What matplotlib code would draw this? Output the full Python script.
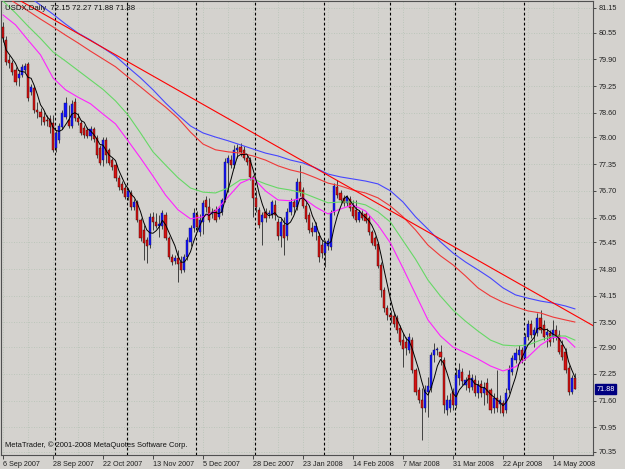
import numpy as np
import pandas as pd
import matplotlib
matplotlib.use("Agg")
import matplotlib.pyplot as plt
import matplotlib.transforms as mtransforms

# --- USDX daily, 6 Sep 2007 .. 23 May 2008 ---
opens = np.array([
    80.69, 80.37, 79.89, 79.81, 79.64, 79.45, 79.52, 79.64, 79.79, 79.11,
    79.21, 78.67, 78.62, 78.50, 78.43, 78.45, 78.35, 77.74, 77.94, 78.26,
    78.50, 78.43, 78.28, 78.86, 78.47, 78.35, 78.23, 78.18, 78.04, 78.21,
    77.99, 77.74, 77.45, 77.94, 77.70, 77.45, 77.33, 77.02, 76.87, 76.77,
    76.55, 76.65, 76.31, 76.43, 75.99, 75.75, 75.51, 75.38, 76.07, 75.94,
    75.85, 75.85, 76.11, 75.55, 75.09, 75.00, 75.07, 74.97, 74.78, 75.09,
    75.46, 75.80, 76.11, 75.70, 75.94, 76.48, 76.31, 76.14, 76.24, 76.07,
    76.19, 76.48, 77.38, 77.45, 77.33, 77.70, 77.77, 77.70, 77.50, 77.45,
    77.04, 76.53, 76.24, 75.94, 76.19, 76.14, 76.11, 76.36, 75.94, 75.60,
    75.87, 75.60, 76.19, 76.43, 76.31, 76.92, 76.72, 76.33, 76.11, 75.80,
    75.70, 75.60, 75.38, 75.19, 75.36, 75.34, 76.19, 76.80, 76.65, 76.53,
    76.41, 76.51, 76.31, 76.24, 75.99, 76.16, 76.14, 76.04, 75.70, 75.55,
    75.41, 74.90, 74.29, 73.85, 73.68, 73.66, 73.61, 73.37, 73.07, 73.02,
    72.83, 73.07, 72.34, 71.86, 71.62, 71.42, 71.81, 71.91, 72.71, 72.83,
    72.78, 72.59, 71.37, 71.42, 71.81, 71.49, 72.15, 72.29, 71.98, 72.22,
    71.93, 72.10, 71.78, 72.00, 71.78, 72.03, 71.86, 71.42, 71.66, 71.52,
    71.54, 71.37, 71.86, 72.29, 72.59, 72.71, 72.83, 72.64, 73.14, 73.46,
    73.19, 73.24, 73.61, 73.44, 73.19, 73.24, 73.12, 73.32, 73.19, 72.95,
    72.78, 72.39, 71.81, 72.15])

highs = np.array([
    80.81, 80.47, 80.01, 79.89, 79.72, 79.64, 79.79, 79.81, 79.84, 79.30,
    79.25, 78.86, 78.72, 78.62, 78.55, 78.55, 78.55, 78.18, 78.35, 78.67,
    78.98, 78.79, 78.91, 78.96, 78.60, 78.43, 78.30, 78.26, 78.28, 78.26,
    78.06, 77.82, 78.01, 78.01, 77.74, 77.50, 77.38, 77.09, 76.94, 76.84,
    76.77, 76.72, 76.51, 76.48, 76.04, 75.87, 75.58, 76.16, 76.19, 76.16,
    76.11, 76.24, 76.19, 75.60, 75.17, 75.14, 75.26, 75.12, 75.17, 75.58,
    75.87, 76.29, 76.21, 76.14, 76.48, 76.58, 76.53, 76.29, 76.33, 76.31,
    76.53, 77.50, 77.57, 77.57, 77.82, 77.84, 77.87, 77.79, 77.57, 77.52,
    77.09, 76.72, 76.31, 76.19, 76.29, 76.24, 76.48, 76.48, 76.04, 76.04,
    76.07, 76.29, 76.53, 76.51, 77.02, 77.33, 76.80, 76.43, 76.19, 75.94,
    75.94, 75.70, 75.51, 75.51, 75.55, 76.24, 76.89, 76.97, 76.72, 76.60,
    76.60, 76.58, 76.48, 76.48, 76.24, 76.24, 76.19, 76.11, 75.75, 75.60,
    75.46, 74.97, 74.36, 73.92, 73.80, 73.73, 73.68, 73.44, 73.24, 73.14,
    73.24, 73.14, 72.39, 71.93, 71.91, 71.98, 72.17, 72.78, 73.00, 72.90,
    72.95, 72.66, 71.73, 71.78, 71.91, 72.39, 72.51, 72.39, 72.17, 72.34,
    72.25, 72.22, 72.10, 72.10, 72.05, 72.15, 71.91, 71.78, 72.34, 71.73,
    71.62, 71.91, 72.47, 72.71, 72.88, 72.95, 72.90, 73.24, 73.56, 73.56,
    73.39, 73.73, 73.80, 73.56, 73.37, 73.32, 73.56, 73.44, 73.32, 73.07,
    72.88, 72.47, 72.22, 72.27])

lows = np.array([
    80.32, 79.76, 79.69, 79.52, 79.28, 79.25, 79.47, 79.59, 78.89, 79.03,
    78.60, 78.47, 78.30, 78.30, 78.28, 78.11, 77.65, 77.65, 77.87, 78.21,
    78.45, 78.23, 78.23, 78.40, 78.30, 78.06, 77.99, 77.99, 77.94, 77.89,
    77.50, 77.33, 77.31, 77.38, 77.33, 77.21, 76.94, 76.72, 76.65, 76.51,
    76.48, 76.24, 76.24, 75.94, 75.48, 75.02, 74.95, 75.31, 75.75, 75.80,
    75.58, 75.77, 75.51, 75.05, 74.90, 74.92, 74.48, 74.70, 74.73, 75.02,
    75.36, 75.70, 75.75, 75.60, 75.65, 76.19, 75.94, 76.04, 75.94, 76.02,
    76.11, 76.43, 76.67, 77.26, 77.26, 77.50, 77.55, 77.45, 77.33, 76.97,
    76.07, 76.19, 75.80, 75.38, 75.94, 76.04, 76.04, 75.99, 75.51, 75.34,
    75.14, 75.51, 76.11, 76.16, 76.24, 76.58, 76.29, 75.94, 75.68, 75.60,
    75.51, 74.97, 75.07, 74.85, 75.26, 75.26, 76.11, 76.53, 76.41, 76.33,
    76.33, 76.21, 76.04, 75.94, 75.94, 75.99, 75.92, 75.63, 75.38, 75.29,
    74.83, 74.12, 73.75, 73.56, 73.49, 73.39, 73.24, 72.95, 72.42, 72.71,
    72.76, 72.27, 71.73, 71.54, 70.64, 71.32, 71.20, 71.81, 72.54, 72.71,
    72.47, 71.30, 71.25, 71.32, 71.37, 71.42, 71.98, 71.98, 71.86, 71.81,
    71.86, 71.71, 71.66, 71.69, 71.49, 71.54, 71.30, 71.30, 71.32, 71.30,
    71.22, 71.30, 71.78, 72.22, 72.51, 72.59, 72.51, 72.59, 73.07, 73.12,
    72.90, 73.17, 73.24, 73.07, 72.90, 72.93, 73.02, 73.07, 72.73, 72.59,
    72.27, 71.73, 71.76, 71.88])

closes = np.array([
    80.42, 79.84, 79.81, 79.59, 79.35, 79.55, 79.72, 79.74, 78.96, 79.23,
    78.67, 78.62, 78.50, 78.38, 78.40, 78.26, 77.70, 78.11, 78.28, 78.60,
    78.84, 78.28, 78.82, 78.47, 78.38, 78.11, 78.06, 78.04, 78.21, 77.96,
    77.57, 77.38, 77.94, 77.57, 77.38, 77.28, 77.02, 76.80, 76.72, 76.55,
    76.70, 76.31, 76.43, 75.99, 75.55, 75.43, 75.36, 76.07, 75.94, 75.85,
    75.90, 76.16, 75.55, 75.09, 74.97, 75.07, 74.92, 74.78, 75.09, 75.51,
    75.80, 76.16, 75.82, 75.99, 76.41, 76.31, 75.99, 76.19, 75.99, 76.26,
    76.48, 77.40, 77.50, 77.33, 77.70, 77.74, 77.65, 77.50, 77.40, 77.04,
    76.53, 76.31, 75.87, 76.11, 76.04, 76.16, 76.43, 76.11, 75.60, 75.94,
    75.55, 76.19, 76.43, 76.31, 76.92, 76.67, 76.33, 76.02, 75.75, 75.70,
    75.85, 75.09, 75.19, 75.43, 75.48, 76.16, 76.82, 76.60, 76.48, 76.41,
    76.55, 76.29, 76.09, 75.99, 76.19, 76.04, 75.97, 75.70, 75.43, 75.36,
    74.87, 74.29, 73.85, 73.68, 73.63, 73.46, 73.32, 73.02, 72.85, 72.88,
    73.14, 72.34, 71.81, 71.62, 71.42, 71.86, 71.95, 72.71, 72.83, 72.85,
    72.66, 71.49, 71.62, 71.62, 71.49, 72.22, 72.34, 72.08, 72.10, 71.91,
    72.15, 71.78, 71.98, 71.78, 71.91, 71.73, 71.37, 71.66, 71.42, 71.62,
    71.30, 71.78, 72.34, 72.64, 72.76, 72.83, 72.59, 73.14, 73.46, 73.19,
    73.32, 73.61, 73.32, 73.14, 73.27, 73.02, 73.32, 73.14, 72.78, 72.66,
    72.34, 71.81, 72.15, 71.88])

# moving averages every 4 bars (bar index -> price)
ma_bars = list(range(0, 184, 4)) + [183]
ma_magenta = [80.98, 80.74, 80.37, 80.01, 79.45, 79.16, 78.98, 78.82, 78.57, 78.33,
              77.92, 77.50, 77.06, 76.60, 76.24, 76.02, 76.07, 76.21, 76.55, 76.89,
              77.02, 76.70, 76.48, 76.46, 76.53, 76.31, 76.14, 76.26, 76.36, 76.21,
              75.87, 75.43, 74.82, 74.19, 73.56, 73.17, 72.90, 72.76, 72.61, 72.44,
              72.32, 72.42, 72.66, 72.95, 73.14, 73.12, 72.90]
ma_green = [81.32, 81.03, 80.71, 80.41, 80.08, 79.86, 79.63, 79.40, 79.17, 78.89,
            78.55, 78.11, 77.65, 77.33, 77.02, 76.77, 76.67, 76.65, 76.77, 76.97,
            76.99, 76.87, 76.77, 76.72, 76.65, 76.53, 76.41, 76.43, 76.43, 76.36,
            76.19, 75.94, 75.49, 75.04, 74.53, 74.14, 73.80, 73.53, 73.29, 73.07,
            72.95, 72.93, 72.95, 73.07, 73.17, 73.17, 73.07]
ma_blue = [81.83, 81.64, 81.44, 81.22, 81.00, 80.76, 80.54, 80.37, 80.18, 79.98,
           79.71, 79.45, 79.16, 78.84, 78.55, 78.28, 78.11, 78.01, 77.92, 77.82,
           77.72, 77.62, 77.55, 77.45, 77.38, 77.26, 77.11, 77.04, 76.99, 76.94,
           76.87, 76.70, 76.43, 76.07, 75.77, 75.46, 75.19, 74.97, 74.78, 74.58,
           74.34, 74.17, 74.09, 74.02, 73.97, 73.90, 73.83]
ma_red = [81.47, 81.27, 81.08, 80.88, 80.69, 80.49, 80.30, 80.10, 79.91, 79.72,
          79.47, 79.23, 78.98, 78.74, 78.47, 78.13, 77.84, 77.70, 77.65, 77.62,
          77.55, 77.45, 77.31, 77.21, 77.14, 77.02, 76.89, 76.82, 76.72, 76.65,
          76.53, 76.33, 76.07, 75.75, 75.38, 75.12, 74.90, 74.63, 74.34, 74.14,
          73.99, 73.88, 73.78, 73.73, 73.63, 73.56, 73.51]

# hand drawn trend line (two anchor points)
trend_bars = [40, 184]
trend_prices = [79.84, 73.63]

# first bar of each month (period separators)
month_starts = [17, 40, 62, 81, 103, 124, 145, 167]

date_labels = ["6 Sep 2007", "28 Sep 2007", "22 Oct 2007", "13 Nov 2007",
               "5 Dec 2007", "28 Dec 2007", "23 Jan 2008", "14 Feb 2008",
               "7 Mar 2008", "31 Mar 2008", "22 Apr 2008", "14 May 2008"]
price_ticks = [81.15, 80.55, 79.90, 79.25, 78.60, 78.00, 77.35, 76.70, 76.05,
               75.45, 74.80, 74.15, 73.50, 72.90, 72.25, 71.60, 70.95, 70.35]

# --- figure ---
bg = "#d4d2ce"
gridc = "#b4c2b4"
font = "Liberation Sans"

fig = plt.figure(figsize=(6.25, 4.69), dpi=100, facecolor=bg)
ax = fig.add_axes([1 / 625, 14 / 469, 592 / 625, 454 / 469])
ax.set_facecolor(bg)
ax.set_xlim(-0.64, 188.8)
ax.set_ylim(70.275, 81.32)

n = len(closes)
idx = np.arange(n)

# grid
for p in price_ticks:
    ax.axhline(p, color=gridc, lw=0.6, ls=(0, (1, 2)), zorder=0)
for b in range(0, 189, 8):
    ax.axvline(b, color=gridc, lw=0.6, ls=(0, (1, 2)), zorder=0)

# period separators
for m in month_starts:
    ax.axvline(m - 0.3, color="black", lw=0.8, ls=(0, (2.5, 2)), zorder=1)

# candles
up = closes >= opens
ax.vlines(idx, lows, highs, color="#2a2a2a", lw=0.6, zorder=3)
ax.bar(idx[up], (closes - opens)[up], bottom=opens[up], width=0.7,
       color="#1414ff", edgecolor="#10105a", lw=0.3, zorder=4)
ax.bar(idx[~up], (closes - opens)[~up], bottom=opens[~up], width=0.7,
       color="#d41414", edgecolor="#3a0000", lw=0.3, zorder=4)

# indicators
ax.plot(ma_bars, ma_blue, color="#4646ff", lw=0.8, zorder=5)
ax.plot(ma_bars, ma_red, color="#f03838", lw=0.8, zorder=5)
ax.plot(ma_bars, ma_green, color="#66d866", lw=0.8, zorder=5)
ax.plot(ma_bars, ma_magenta, color="#ff22ff", lw=0.8, zorder=5)
sma = pd.Series(closes).rolling(5, min_periods=1).mean()
ax.plot(idx, sma, color="black", lw=0.7, zorder=6)
ax.axline((trend_bars[0], trend_prices[0]), (trend_bars[1], trend_prices[1]),
          color="#ff0000", lw=0.8, zorder=5)

# axes
for s in ax.spines.values():
    s.set_color("#505050")
    s.set_linewidth(0.8)

ax.set_xticks(range(0, 16 * len(date_labels), 16))
ax.set_xticklabels(date_labels, fontsize=5.2, family=font, color="#202020")
for lbl in ax.get_xticklabels():
    lbl.set_ha("left")
ax.tick_params(axis="x", length=3, width=0.6, pad=1.5, color="#303030")

ax.yaxis.tick_right()
ax.set_yticks(price_ticks)
ax.set_yticklabels([f"{p:.2f}" for p in price_ticks], fontsize=5.2,
                   family=font, color="#202020")
ax.tick_params(axis="y", length=2, width=0.6, pad=2, color="#303030")

# last price marker
tr = mtransforms.blended_transform_factory(ax.transAxes, ax.transData)
ax.text(1.006, closes[-1], f"{closes[-1]:.2f}", transform=tr, fontsize=5.2,
        family=font, color="white", va="center", ha="left", zorder=10,
        bbox=dict(boxstyle="square,pad=0.2", fc="#000080", ec="#000080"),
        clip_on=False)

ax.text(4 / 592, 1 - 7 / 454,
        f"USDX,Daily  {opens[-1]:.2f} {highs[-1]:.2f} {lows[-1]:.2f} {closes[-1]:.2f}",
        transform=ax.transAxes, fontsize=5.6, family=font, color="#101010",
        va="center", ha="left", zorder=10)
ax.text(4 / 592, 10 / 454, "MetaTrader, \u00a9 2001-2008 MetaQuotes Software Corp.",
        transform=ax.transAxes, fontsize=5.4, family=font, color="#101010",
        va="center", ha="left", zorder=10)

fig.savefig("out.png", dpi=100, facecolor=bg)
